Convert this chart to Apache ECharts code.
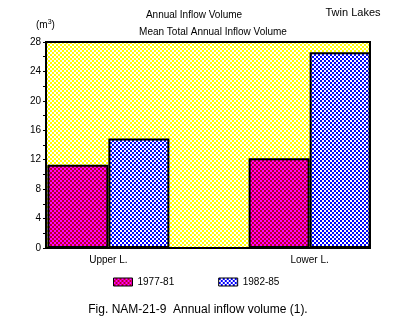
<!DOCTYPE html>
<html>
<head>
<meta charset="utf-8">
<script src="https://cdn.jsdelivr.net/npm/echarts@6/dist/echarts.min.js"></script>
<style>
  html, body { margin: 0; padding: 0; background: #fff; }
  #chart { width: 411px; height: 333px; }
</style>
</head>
<body>
<div id="chart"></div>
<script>
// Lakes on the horizontal axis and mean annual inflow volume per period (m3)
const lakes = ['Upper L.', 'Lower L.'];
const periods = ['1977-81', '1982-85'];
const inflow1977to81 = [11.3, 12.2];
const inflow1982to85 = [14.9, 26.6];

// Value axis range and step
const yMin = 0;
const yMax = 28;
const yStep = 4;

// Small two-colour checker tiles used as fills
function checker(a, b) {
  const c = document.createElement('canvas');
  c.width = 4; c.height = 4;
  const g = c.getContext('2d');
  for (let y = 0; y < 4; y++) {
    for (let x = 0; x < 4; x++) {
      g.fillStyle = (((x >> 1) + (y >> 1)) % 2 === 0) ? a : b;
      g.fillRect(x, y, 1, 1);
    }
  }
  return { image: c, repeat: 'repeat' };
}

const fillBackground = checker('#ffff00', '#ffffff');
const fillFirst = checker('#ff00ff', '#b8002a');
const fillSecond = checker('#0000ff', '#ffffff');

const FONT = '"Liberation Sans", Arial, sans-serif';

const chart = echarts.init(document.getElementById('chart'), null, { renderer: 'canvas' });

function toPoints(values) {
  return values.map((v, i) => [i, v]);
}

chart.setOption({
  animation: false,
  textStyle: { fontFamily: FONT, color: '#000' },
  grid: {
    left: 46, right: 41, top: 42, bottom: 85,
    show: true,
    backgroundColor: fillBackground,
    borderColor: '#000',
    borderWidth: 2
  },
  xAxis: {
    type: 'value',
    min: -0.31,
    max: 1.30,
    splitLine: { show: false },
    axisTick: { show: false },
    axisLine: { show: true, onZero: false, lineStyle: { color: '#000', width: 2 } },
    axisLabel: {
      customValues: lakes.map((_, i) => i),
      formatter: v => lakes[Math.round(v)] || '',
      color: '#000', fontSize: 10, fontFamily: FONT, margin: 7
    }
  },
  yAxis: {
    type: 'value',
    min: yMin, max: yMax, interval: yStep,
    splitLine: { show: false },
    axisLine: { show: true, onZero: false, lineStyle: { color: '#000', width: 2 } },
    axisTick: { show: true, length: 3, lineStyle: { color: '#000', width: 1 } },
    minorTick: { show: true, splitNumber: 2, length: 3, lineStyle: { color: '#000', width: 1 } },
    axisLabel: { color: '#000', fontSize: 10, fontFamily: FONT, margin: 5 }
  },
  legend: {
    left: 108, top: 272,
    itemWidth: 19, itemHeight: 8, itemGap: 44,
    icon: 'rect',
    itemStyle: { borderColor: '#000', borderWidth: 1 },
    textStyle: { color: '#000', fontSize: 10, fontFamily: FONT },
    data: periods
  },
  series: [
    {
      name: periods[0], type: 'bar',
      data: toPoints(inflow1977to81),
      barWidth: 61, barGap: '0%',
      itemStyle: { color: fillFirst, borderColor: '#000', borderWidth: 2 }
    },
    {
      name: periods[1], type: 'bar',
      data: toPoints(inflow1982to85),
      barWidth: 61, barGap: '0%',
      itemStyle: { color: fillSecond, borderColor: '#000', borderWidth: 2 }
    }
  ],
  graphic: [
    { type: 'text', x: 194, y: 15, style: { text: 'Annual Inflow Volume', font: '10px ' + FONT, fill: '#000', textAlign: 'center', textVerticalAlign: 'middle' } },
    { type: 'text', x: 213, y: 32, style: { text: 'Mean Total Annual Inflow Volume', font: '10px ' + FONT, fill: '#000', textAlign: 'center', textVerticalAlign: 'middle' } },
    { type: 'text', x: 353, y: 13, style: { text: 'Twin Lakes', font: '11px ' + FONT, fill: '#000', textAlign: 'center', textVerticalAlign: 'middle' } },
    { type: 'text', x: 36, y: 25, style: { rich: { b: { font: '10px ' + FONT, fill: '#000' }, s: { font: '7px ' + FONT, fill: '#000', verticalAlign: 'top', padding: [0, 0, 6, 0] } }, text: '{b|(m}{s|3}{b|)}', textVerticalAlign: 'middle' } },
    { type: 'text', x: 198, y: 310, style: { text: 'Fig. NAM-21-9  Annual inflow volume (1).', font: '12px ' + FONT, fill: '#000', textAlign: 'center', textVerticalAlign: 'middle' } }
  ]
});
</script>
</body>
</html>
